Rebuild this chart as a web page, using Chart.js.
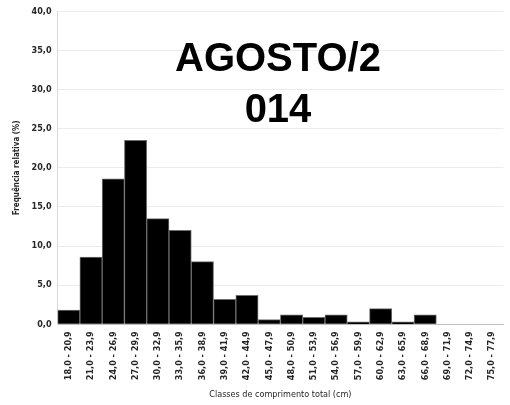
<!DOCTYPE html>
<html lang="pt">
<head>
    <meta charset="UTF-8">
    <title>Agosto/2014 - Frequência relativa</title>
    <style>
        body {
            margin: 0;
            background-color: #ffffff;
        }
        .wrap {
            position: relative;
            width: 510px;
            height: 405px;
        }
        .title {
            position: absolute;
            left: 150px;
            top: 32px;
            width: 256px;
            text-align: center;
            font-family: 'Liberation Sans', Arial, sans-serif;
            font-weight: bold;
            font-size: 40px;
            line-height: 51px;
            color: #000;
        }
    </style>
    <script src="https://cdn.jsdelivr.net/npm/chart.js@4/dist/chart.umd.min.js"></script>
</head>
<body>
    <div class="wrap">
        <canvas id="histChart" width="510" height="405"></canvas>
        <div class="title">AGOSTO/2<br>014</div>
    </div>

    <script>
        const classes = [
            '18,0 - 20,9', '21,0 - 23,9', '24,0 - 26,9', '27,0 - 29,9', '30,0 - 32,9',
            '33,0 - 35,9', '36,0 - 38,9', '39,0 - 41,9', '42,0 - 44,9', '45,0 - 47,9',
            '48,0 - 50,9', '51,0 - 53,9', '54,0 - 56,9', '57,0 - 59,9', '60,0 - 62,9',
            '63,0 - 65,9', '66,0 - 68,9', '69,0 - 71,9', '72,0 - 74,9', '75,0 - 77,9'
        ];
        const frequencia = [
            1.8, 8.6, 18.6, 23.5, 13.5,
            12.0, 8.0, 3.2, 3.7, 0.6,
            1.2, 0.9, 1.2, 0.3, 2.0,
            0.3, 1.2, 0, 0, 0
        ];
        const yMax = 40;
        const yStep = 5;

        const labelFont = { family: "'Liberation Sans Narrow', 'DejaVu Sans Condensed', sans-serif", size: 9, weight: 'bold' };

        new Chart(document.getElementById('histChart'), {
            type: 'bar',
            data: {
                labels: classes,
                datasets: [{
                    data: frequencia,
                    backgroundColor: '#000000',
                    borderColor: '#6e6e6e',
                    borderWidth: 1,
                    barPercentage: 1.0,
                    categoryPercentage: 1.0
                }]
            },
            options: {
                responsive: false,
                animation: false,
                layout: { padding: { left: 12, right: 5, top: 2, bottom: 5 } },
                plugins: {
                    legend: { display: false },
                    tooltip: { enabled: false }
                },
                scales: {
                    x: {
                        grid: { display: false, drawTicks: false },
                        border: { color: '#bfbfbf' },
                        ticks: {
                            color: '#262626',
                            font: labelFont,
                            minRotation: 90,
                            maxRotation: 90,
                            autoSkip: false,
                            padding: 7
                        },
                        title: {
                            display: true,
                            text: 'Classes de comprimento total (cm)',
                            color: '#262626',
                            font: { family: labelFont.family, size: 9 },
                            padding: { top: 2, bottom: 0 }
                        }
                    },
                    y: {
                        min: 0,
                        max: yMax,
                        ticks: {
                            stepSize: yStep,
                            color: '#262626',
                            font: labelFont,
                            padding: 6,
                            callback: v => v.toFixed(1).replace('.', ',')
                        },
                        grid: { color: '#ececec', drawTicks: false },
                        border: { color: '#d9d9d9' },
                        title: {
                            display: true,
                            text: 'Frequência relativa (%)',
                            color: '#262626',
                            font: { family: labelFont.family, size: 8, weight: 'bold' },
                            padding: { top: 0, bottom: 4 }
                        }
                    }
                }
            }
        });
    </script>
</body>
</html>
